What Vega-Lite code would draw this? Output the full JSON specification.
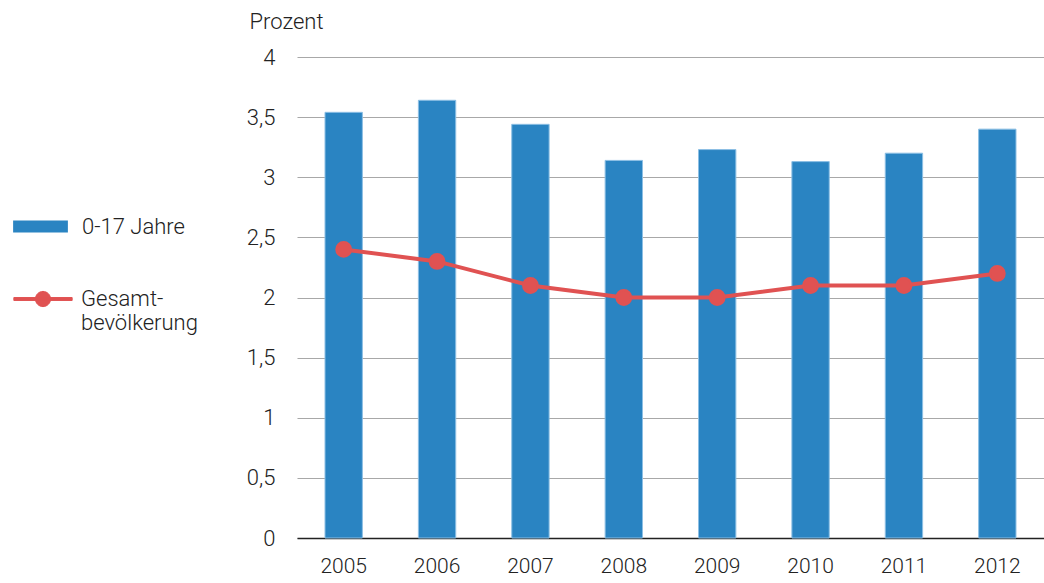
{
  "$schema": "https://vega.github.io/schema/vega-lite/v6.json",
  "autosize": "none",
  "width": 747,
  "height": 481,
  "padding": {"left": 297, "top": 57, "right": 0, "bottom": 45},
  "background": "white",
  "config": {
    "view": {"stroke": null},
    "font": "Roboto",
    "axis": {"labelFont": "Roboto", "titleFont": "Roboto", "labelFontWeight": 300, "labelColor": "#222222", "titleColor": "#222222"},
    "legend": {"labelFont": "Roboto", "labelFontWeight": 300, "labelColor": "#222222"}
  },
  "data": {
    "values": [
      {"year": "2005", "kids": 3.54, "total": 2.4},
      {"year": "2006", "kids": 3.64, "total": 2.3},
      {"year": "2007", "kids": 3.44, "total": 2.1},
      {"year": "2008", "kids": 3.14, "total": 2.0},
      {"year": "2009", "kids": 3.23, "total": 2.0},
      {"year": "2010", "kids": 3.13, "total": 2.1},
      {"year": "2011", "kids": 3.20, "total": 2.1},
      {"year": "2012", "kids": 3.40, "total": 2.2}
    ]
  },
  "encoding": {
    "x": {
      "field": "year", "type": "ordinal",
      "scale": {"paddingInner": 0.6, "paddingOuter": 0.3},
      "axis": {"title": null, "labelAngle": 0, "labelFontSize": 21, "labelPadding": 17, "ticks": false, "domain": true, "domainColor": "#222222", "domainWidth": 1.5, "grid": false}
    }
  },
  "layer": [
    {
      "mark": {"type": "bar", "stroke": "#8cbfe4", "strokeWidth": 1},
      "encoding": {
        "y": {
          "field": "kids", "type": "quantitative",
          "scale": {"domain": [0, 4]},
          "axis": {
            "values": [0, 0.5, 1, 1.5, 2, 2.5, 3, 3.5, 4],
            "labelExpr": "replace(format(datum.value, ''), '.', ',')",
            "labelFontSize": 22, "labelPadding": 22, "ticks": false, "domain": false,
            "grid": true, "gridColor": "#a8a8a8", "gridWidth": 1.2,
            "title": "Prozent", "titleAngle": 0, "titleFontSize": 22, "titleFontWeight": 300,
            "titleX": -48, "titleY": -29, "titleAlign": "left", "titleBaseline": "alphabetic"
          }
        },
        "fill": {
          "datum": "0-17 Jahre", "type": "nominal",
          "scale": {"range": ["#2a84c2"]},
          "legend": {
            "title": null, "orient": "none", "legendX": -284, "legendY": 142,
            "symbolType": "M-1,-0.22H1V0.22H-1Z", "symbolSize": 3000, "symbolStrokeWidth": 0,
            "labelFontSize": 22, "labelOffset": 14
          }
        }
      }
    },
    {
      "mark": {"type": "line", "strokeWidth": 4, "point": {"size": 220, "filled": true, "opacity": 1}},
      "encoding": {
        "y": {"field": "total", "type": "quantitative"},
        "stroke": {
          "datum": "Gesamtbevölkerung", "type": "nominal",
          "scale": {"range": ["#e05252"]},
          "legend": {
            "title": null, "orient": "none", "legendX": -284, "legendY": 212,
            "symbolType": "M-1,-0.05H1V0.05H-1Z M0.26,0 A0.26,0.26 0 1,1 -0.26,0 A0.26,0.26 0 1,1 0.26,0Z",
            "symbolSize": 3400, "symbolFillColor": "#e05252", "symbolStrokeColor": "#e05252", "symbolStrokeWidth": 1,
            "labelFontSize": 22, "labelOffset": 8, "labelLimit": 300,
            "labelExpr": "['Gesamt-', 'bevölkerung']"
          }
        },
        "color": {"value": "#e05252"}
      }
    }
  ],
  "resolve": {"scale": {"fill": "independent", "stroke": "independent"}, "legend": {"fill": "independent", "stroke": "independent"}}
}
